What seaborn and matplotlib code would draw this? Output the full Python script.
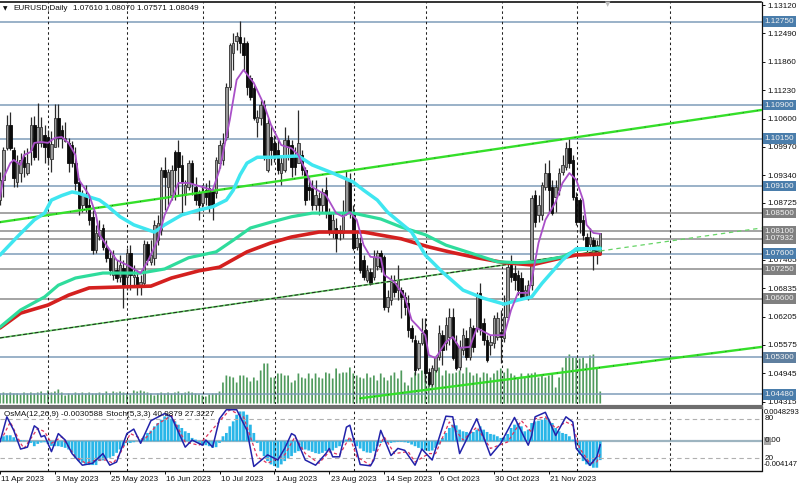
import matplotlib
matplotlib.use('Agg')
import matplotlib.pyplot as plt
import numpy as np
import seaborn as sns

# candles
opens = [1.0879,1.0924,1.0994,1.1046,1.0990,1.0919,1.0939,1.0974,1.0939,1.0990,
         1.1046,1.1006,1.1006,1.1024,1.1019,1.0970,1.0997,1.1061,1.1035,1.1010,
         1.1006,1.1001,1.0961,1.0919,1.0868,1.0886,1.0868,1.0842,1.0768,1.0800,
         1.0817,1.0773,1.0751,1.0713,1.0724,1.0708,1.0728,1.0708,1.0762,1.0708,
         1.0708,1.0690,1.0694,1.0781,1.0742,1.0751,1.0790,1.0813,1.0946,1.0908,
         1.0890,1.0986,1.0986,1.0957,1.0890,1.0908,1.0961,1.0908,1.0894,1.0873,
         1.0901,1.0906,1.0901,1.0894,1.0961,1.0968,1.1019,1.1130,1.1206,1.1232,
         1.1241,1.1228,1.1228,1.1150,1.1128,1.1052,1.1061,1.1090,1.0946,1.1019,
         1.1006,1.0990,1.0939,1.0946,1.1012,1.1001,1.0974,1.0961,1.0979,1.0946,
         1.0908,1.0906,1.0868,1.0884,1.0868,1.0901,1.0850,1.0806,1.0817,1.0806,
         1.0806,1.0850,1.0924,1.0850,1.0775,1.0784,1.0746,1.0701,1.0719,1.0708,
         1.0733,1.0762,1.0753,1.0642,1.0657,1.0694,1.0679,1.0679,1.0664,1.0650,
         1.0595,1.0568,1.0506,1.0562,1.0590,1.0497,1.0470,1.0502,1.0530,1.0579,
         1.0562,1.0575,1.0620,1.0562,1.0508,1.0546,1.0573,1.0530,1.0595,1.0595,
         1.0673,1.0606,1.0568,1.0557,1.0562,1.0575,1.0586,1.0573,1.0620,1.0735,
         1.0717,1.0713,1.0706,1.0664,1.0661,1.0690,1.0890,1.0846,1.0846,1.0908,
         1.0939,1.0908,1.0886,1.0901,1.0941,1.0952,1.0994,1.0968,1.0886,1.0879,
         1.0835,1.0797,1.0781,1.0790,1.0760,1.0761]
highs = [1.0942,1.0996,1.1068,1.1074,1.0996,1.0979,1.0984,1.0990,1.0994,1.1063,
         1.1065,1.1094,1.1063,1.1046,1.1035,1.1032,1.1092,1.1092,1.1046,1.1052,
         1.1017,1.1010,1.0997,1.0928,1.0901,1.0912,1.0890,1.0857,1.0824,1.0835,
         1.0826,1.0790,1.0768,1.0768,1.0746,1.0757,1.0746,1.0773,1.0779,1.0735,
         1.0724,1.0713,1.0790,1.0788,1.0790,1.0835,1.0846,1.0952,1.0974,1.0948,
         1.0957,1.0990,1.1012,1.0979,1.0924,1.0968,1.0968,1.0930,1.0901,1.0912,
         1.0917,1.0924,1.0908,1.0974,1.1012,1.1028,1.1139,1.1228,1.1250,1.1252,
         1.1277,1.1241,1.1232,1.1157,1.1134,1.1079,1.1101,1.1101,1.1061,1.1046,
         1.1024,1.1017,1.0974,1.1041,1.1024,1.1012,1.0997,1.1078,1.0990,1.0952,
         1.0930,1.0924,1.0924,1.0897,1.0906,1.0930,1.0861,1.0852,1.0839,1.0824,
         1.0879,1.0946,1.0939,1.0868,1.0806,1.0797,1.0757,1.0735,1.0728,1.0768,
         1.0768,1.0768,1.0757,1.0679,1.0713,1.0713,1.0735,1.0686,1.0675,1.0668,
         1.0601,1.0579,1.0568,1.0618,1.0618,1.0506,1.0513,1.0535,1.0601,1.0590,
         1.0620,1.0639,1.0639,1.0579,1.0568,1.0595,1.0590,1.0618,1.0601,1.0675,
         1.0695,1.0618,1.0579,1.0579,1.0624,1.0631,1.0635,1.0668,1.0740,1.0757,
         1.0735,1.0724,1.0719,1.0690,1.0701,1.0890,1.0901,1.0890,1.0919,1.0961,
         1.0968,1.0924,1.0924,1.0950,1.0979,1.1008,1.1015,1.0979,1.0897,1.0884,
         1.0846,1.0806,1.0817,1.0797,1.0790,1.0807]
lows = [1.0868,1.0886,1.0990,1.0990,1.0908,1.0908,1.0919,1.0930,1.0935,1.0957,
        1.0968,1.0968,1.0997,1.0961,1.0957,1.0941,1.0997,1.0997,1.0994,1.1008,
        1.0941,1.0952,1.0901,1.0846,1.0852,1.0852,1.0824,1.0760,1.0762,1.0790,
        1.0768,1.0742,1.0713,1.0701,1.0697,1.0697,1.0639,1.0679,1.0679,1.0690,
        1.0668,1.0668,1.0690,1.0735,1.0735,1.0735,1.0779,1.0802,1.0857,1.0868,
        1.0879,1.0879,1.0890,1.0846,1.0868,1.0901,1.0890,1.0868,1.0835,1.0864,
        1.0868,1.0852,1.0835,1.0883,1.0950,1.0957,1.1012,1.1123,1.1168,1.1212,
        1.1206,1.1168,1.1112,1.1101,1.1057,1.1019,1.1046,1.0968,1.0941,1.0957,
        1.0963,1.0937,1.0912,1.0941,1.0968,1.0930,1.0935,1.0961,1.0935,1.0868,
        1.0879,1.0857,1.0857,1.0846,1.0852,1.0839,1.0802,1.0795,1.0764,1.0790,
        1.0795,1.0846,1.0839,1.0768,1.0768,1.0717,1.0701,1.0697,1.0690,1.0701,
        1.0724,1.0719,1.0635,1.0631,1.0646,1.0664,1.0657,1.0618,1.0624,1.0575,
        1.0564,1.0491,1.0502,1.0557,1.0475,1.0466,1.0466,1.0497,1.0524,1.0513,
        1.0546,1.0557,1.0524,1.0502,1.0502,1.0535,1.0524,1.0524,1.0542,1.0586,
        1.0579,1.0557,1.0520,1.0535,1.0551,1.0568,1.0517,1.0564,1.0613,1.0697,
        1.0679,1.0668,1.0657,1.0661,1.0657,1.0679,1.0819,1.0830,1.0835,1.0901,
        1.0850,1.0846,1.0852,1.0890,1.0935,1.0946,1.0950,1.0879,1.0824,1.0806,
        1.0790,1.0757,1.0768,1.0724,1.0738,1.0757]
closes = [1.0924,1.0990,1.1046,1.0994,1.0928,1.0961,1.0968,1.0952,1.0961,1.1046,
          1.0974,1.1041,1.1041,1.0997,1.0974,1.1004,1.1061,1.1017,1.1017,1.1017,
          1.0961,1.0961,1.0917,1.0862,1.0890,1.0864,1.0835,1.0768,1.0806,1.0813,
          1.0775,1.0751,1.0724,1.0757,1.0706,1.0735,1.0686,1.0762,1.0713,1.0713,
          1.0686,1.0697,1.0781,1.0746,1.0757,1.0824,1.0828,1.0946,1.0930,1.0941,
          1.0946,1.0946,1.0952,1.0919,1.0912,1.0961,1.0917,1.0879,1.0868,1.0897,
          1.0886,1.0868,1.0868,1.0968,1.1001,1.1006,1.1130,1.1223,1.1228,1.1243,
          1.1228,1.1201,1.1130,1.1108,1.1061,1.1063,1.1090,1.0974,1.1050,1.0990,
          1.0974,1.0946,1.0961,1.1012,1.0997,1.0952,1.0952,1.1006,1.0946,1.0879,
          1.0901,1.0868,1.0890,1.0868,1.0897,1.0850,1.0808,1.0835,1.0795,1.0813,
          1.0850,1.0924,1.0850,1.0773,1.0795,1.0724,1.0708,1.0724,1.0694,1.0753,
          1.0762,1.0730,1.0642,1.0664,1.0697,1.0675,1.0701,1.0664,1.0642,1.0590,
          1.0573,1.0502,1.0562,1.0584,1.0495,1.0470,1.0506,1.0530,1.0584,1.0546,
          1.0601,1.0620,1.0528,1.0506,1.0553,1.0579,1.0530,1.0597,1.0553,1.0668,
          1.0595,1.0568,1.0524,1.0564,1.0618,1.0618,1.0575,1.0620,1.0730,1.0708,
          1.0701,1.0679,1.0664,1.0679,1.0690,1.0884,1.0830,1.0868,1.0912,1.0939,
          1.0901,1.0850,1.0908,1.0939,1.0957,1.0994,1.0961,1.0886,1.0830,1.0830,
          1.0802,1.0775,1.0797,1.0760,1.0779,1.0805]

# volumes, same bars
volumes = [10,11,10,11,10,10,9,11,10,11,10,11,12,10,13,11,12,14,11,8,
           10,9,11,10,11,10,11,10,10,11,10,12,10,12,11,12,11,10,9,13,
           12,13,12,11,10,8,10,11,10,11,10,11,12,10,11,12,11,10,9,8,
           7,9,10,10,12,21,28,27,26,21,28,28,26,22,26,23,33,40,40,
           26,26,30,30,28,28,21,23,30,26,25,30,25,30,26,25,31,30,25,35,
           30,31,31,36,30,28,26,25,30,26,28,23,30,26,23,28,31,25,33,21,
           18,26,31,30,33,35,26,33,33,36,28,33,30,30,31,33,30,36,31,28,
           30,26,31,30,26,30,33,35,31,35,30,28,26,30,26,30,30,31,26,28,
           26,28,30,16,26,36,46,49,46,46,45,46,40,48,49,35,12]

# moving averages (bar, price)
ma_fast_x = [0,1,3,4,6,7,9,10,12,14,16,18,20,22,23,26,28,29,32,34,37,41,43,46,48,50,52,55,59,62,
             64,67,69,71,74,77,79,82,85,87,89,91,95,98,100,102,104,106,108,111,112,115,118,120,
             122,124,125,127,130,132,134,137,139,143,147,149,151,154,155,157,159,162,164,166,168,
             170,171,173,175]
ma_fast_y = [1.0886,1.0928,1.0961,1.0968,1.0957,1.0979,1.0986,1.1006,1.1008,1.1006,1.1017,1.1019,
             1.1006,1.0979,1.0924,1.0890,1.0846,1.0802,1.0768,1.0746,1.0735,1.0717,1.0742,1.0790,
             1.0846,1.0879,1.0917,1.0917,1.0908,1.0901,1.0946,1.1057,1.1146,1.1168,1.1139,1.1090,
             1.1046,1.1001,1.0994,1.0979,1.0946,1.0908,1.0890,1.0850,1.0842,1.0852,1.0835,1.0779,
             1.0753,1.0751,1.0713,1.0697,1.0664,1.0613,1.0597,1.0579,1.0535,1.0528,1.0564,1.0575,
             1.0551,1.0553,1.0595,1.0579,1.0579,1.0635,1.0673,1.0673,1.0701,1.0784,1.0835,1.0875,
             1.0917,1.0939,1.0924,1.0879,1.0824,1.0806,1.0804]
ma_mid_x = [0,5,10,13,15,18,21,23,26,29,31,35,39,45,48,53,58,62,66,68,70,72,75,79,87,91,97,103,106,
            110,113,120,124,129,135,141,147,151,155,158,164,168,175]
ma_mid_y = [1.0757,1.0797,1.0835,1.0850,1.0879,1.0889,1.0897,1.0894,1.0886,1.0879,1.0868,1.0842,
            1.0824,1.0808,1.0824,1.0846,1.0857,1.0864,1.0879,1.0901,1.0935,1.0961,1.0974,1.0974,
            1.0977,1.0957,1.0939,1.0919,1.0901,1.0879,1.0852,1.0808,1.0757,1.0719,1.0679,1.0661,
            1.0648,1.0657,1.0664,1.0694,1.0746,1.0771,1.0771]
ma_slow_x = [0,6,13,17,22,30,41,48,55,63,68,73,79,85,91,103,111,117,124,130,137,145,151,157,164,168,175]
ma_slow_y = [1.0597,1.0635,1.0664,1.0690,1.0706,1.0717,1.0717,1.0726,1.0751,1.0764,1.0790,1.0817,
             1.0830,1.0842,1.0850,1.0850,1.0837,1.0819,1.0802,1.0779,1.0762,1.0742,1.0740,1.0742,
             1.0753,1.0768,1.0773]
ma_200_x = [0,6,14,20,26,35,44,50,58,64,72,79,85,93,106,117,125,131,139,147,155,164,168,175]
ma_200_y = [1.0595,1.0628,1.0646,1.0668,1.0684,1.0686,1.0688,1.0706,1.0722,1.0730,1.0764,1.0784,
            1.0797,1.0808,1.0808,1.0793,1.0775,1.0764,1.0751,1.0740,1.0735,1.0751,1.0757,1.0759]

# trend lines
trend_up_x, trend_up_y = [0, 222], [1.0830, 1.1079]
trend_low_x, trend_low_y = [105, 222], [1.0439, 1.0553]
trend_thin_x, trend_thin_y = [0, 175], [1.0573, 1.0766]
trend_ext_x, trend_ext_y = [175, 222], [1.0766, 1.0817]

# levels on the right
level_vals = [1.1275,1.1090,1.1015,1.0910,1.0850,1.0810,1.07932,1.0760,1.0725,1.0660,1.0530,1.0448]
level_text = ['1.12750','1.10900','1.10150','1.09100','1.08500','1.08100','1.07932','1.07600',
              '1.07250','1.06600','1.05300','1.04480']
level_cols = ['#4a7dab','#4a7dab','#4a7dab','#4a7dab','#808080','#808080','#808080','#4a7dab',
              '#808080','#808080','#5f7f9f','#4a7dab']
price_ticks = [1.13120,1.12490,1.11860,1.11230,1.10600,1.09970,1.09340,1.08725,1.07465,1.06835,
               1.06205,1.05575,1.04945,1.04315]

# vertical grid and dates
grid_bars = [14, 37, 59.2, 80.2, 103.2, 124.2, 146.3, 168.2, 195.3]
date_bars = [0,16,32,48,64,80,96,112,128,144,160]
date_text = ['11 Apr 2023','3 May 2023','25 May 2023','16 Jun 2023','10 Jul 2023','1 Aug 2023',
             '23 Aug 2023','14 Sep 2023','6 Oct 2023','30 Oct 2023','21 Nov 2023']

# OsMA, in units of 5.38e-5
osma_vals = [10,15,18,18,12,6,3,2,0,-5,-15,-8,-4,-3,-8,-14,-15,-15,-17,-20,
             -25,-35,-50,-60,-65,-70,-72,-72,-72,-60,-58,-52,-50,-45,-35,-25,-15,-5,-5,-3,
             0,5,15,25,32,45,55,65,75,75,68,60,50,40,30,25,10,5,-5,-10,
             -12,-15,-20,-18,-5,15,25,45,60,80,90,90,80,50,25,-5,-30,-45,-60,-70,
             -75,-80,-70,-60,-52,-45,-35,-30,-25,-25,-28,-32,-36,-38,-35,-30,-28,-28,-20,-15,
             -5,5,8,-3,-15,-22,-30,-34,-35,-30,-15,-5,-2,-5,-5,-3,-2,-2,-3,-5,
             -10,-15,-20,-25,-28,-30,-28,-20,-10,10,25,40,50,48,35,30,28,25,28,35,
             45,35,28,22,20,15,10,12,22,40,50,55,45,30,35,55,60,62,65,70,
             68,55,40,30,25,22,15,5,-10,-40,-60,-70,-75,-80,-80,-57]
osma_unit = 5.38e-5

# stochastic
stoch_x = [0,2,4,6,8,10,11,12,13,15,17,19,21,24,27,30,32,34,37,39,41,44,48,50,54,56,59,60,62,64,66,
           69,72,74,78,81,83,85,86,89,92,95,96,97,99,101,102,105,108,109,111,114,116,118,121,123,
           126,130,132,134,139,143,146,150,154,155,156,159,162,165,167,168,172,174,175]
stoch_y = [45,84,63,34,37,70,66,53,55,30,58,48,27,9,12,27,9,14,58,65,43,78,89,84,37,48,40,48,37,81,
           95,95,63,7,25,17,35,58,55,17,9,27,35,22,22,68,71,10,8,17,63,24,35,32,9,34,17,85,84,27,
           81,24,43,83,40,55,84,91,55,84,76,35,9,22,41]
signal_x = [1,3,6,7,11,13,15,18,22,25,28,31,33,35,38,42,46,50,54,58,63,67,71,75,78,83,86,89,93,96,
            99,102,104,108,112,115,119,121,125,127,131,135,139,143,148,152,155,156,159,162,165,
            167,169,172,174,175]
signal_y = [55,76,43,35,66,61,43,53,22,12,17,17,12,27,58,48,73,86,45,40,71,95,84,22,12,25,53,27,12,
            30,25,53,22,9,53,27,30,14,27,27,76,48,68,35,45,78,60,81,84,66,76,71,35,12,14,27]

W, H = 800, 488
sns.set_style('white')
plt.rcParams['font.family'] = ['Liberation Sans', 'DejaVu Sans']
fig = plt.figure(figsize=(W / 100, H / 100), dpi=100)
ax = fig.add_axes([0, 1 - 403.5 / H, 761.5 / W, 402 / H])
sub = fig.add_axes([0, 1 - 471 / H, 761.5 / W, 64.5 / H])
xmax = 761.5 / 3.43
ink = '#111111'
fs = 5.9

# volume underneath everything
vol_ax = ax.twinx()
vol_ax.set_zorder(0)
ax.set_zorder(1)
ax.patch.set_alpha(0)
vol_ax.bar(np.arange(len(volumes)), volumes, width=0.5, color='#4f9a5c', linewidth=0, snap=False)
vol_ax.set_ylim(0, 402)
vol_ax.set_yticks([])

# levels
for v, c in zip(level_vals, level_cols):
    ax.axhline(v, color='#7f9db9' if c != '#808080' else '#8c8c8c', lw=1.1, zorder=1)
for g in grid_bars:
    ax.axvline(g, color='#222222', lw=0.75, ls=(0, (2.4, 2.6)), zorder=1)
    sub.axvline(g, color='#222222', lw=0.75, ls=(0, (2.4, 2.6)), zorder=1)

# candles
bars = np.arange(len(opens))
op, hi, lo, cl = map(np.array, (opens, highs, lows, closes))
ax.vlines(bars, lo, hi, color='#2a2a2a', lw=0.9, zorder=3)
up = cl >= op
ax.bar(bars[up], (cl - op)[up], bottom=op[up], width=0.72, color='#9a9a9a', edgecolor='#333333',
       linewidth=0.6, zorder=4)
ax.bar(bars[~up], (op - cl)[~up], bottom=cl[~up], width=0.72, color='#0a0a0a', edgecolor='#0a0a0a',
       linewidth=0.6, zorder=4)

# trend lines
sns.lineplot(x=trend_up_x, y=trend_up_y, color='#35e02a', lw=1.7, ax=ax, zorder=5)
sns.lineplot(x=trend_low_x, y=trend_low_y, color='#35e02a', lw=1.7, ax=ax, zorder=5)
ax.plot(trend_up_x, trend_up_y, color='#1a3a1a', lw=0.6, ls=(0, (1, 16)), zorder=5)
ax.plot(trend_low_x, trend_low_y, color='#1a3a1a', lw=0.6, ls=(0, (1, 16)), zorder=5)
sns.lineplot(x=trend_thin_x, y=trend_thin_y, color='#5fcf5f', lw=1.2, ax=ax, zorder=5)
ax.plot(trend_thin_x, trend_thin_y, color='#222222', lw=0.7, ls=(0, (4, 2)), zorder=5)
ax.plot(trend_ext_x, trend_ext_y, color='#66d466', lw=0.9, ls=(0, (3.5, 3)), zorder=5)

# moving averages
round_join = dict(solid_joinstyle='round', solid_capstyle='round')
sns.lineplot(x=ma_200_x, y=ma_200_y, color='#d4201f', lw=2.6, ax=ax, zorder=6, estimator=None, **round_join)
sns.lineplot(x=ma_slow_x, y=ma_slow_y, color='#2fdc9c', lw=2.3, ax=ax, zorder=6, estimator=None, **round_join)
sns.lineplot(x=ma_mid_x, y=ma_mid_y, color='#3fe6f0', lw=2.5, ax=ax, zorder=7, estimator=None, **round_join)
sns.lineplot(x=ma_fast_x, y=ma_fast_y, color='#a950c8', lw=1.3, ax=ax, zorder=8, estimator=None, **round_join)

ax.set_xlim(0, xmax)
vol_ax.set_xlim(0, xmax)
ax.set_ylim(1.1312 - 398.5 / 4505, 1.1312 + 3.5 / 4505)
ax.set_xticks([])
ax.yaxis.tick_right()
ax.set_yticks(price_ticks)
ax.set_yticklabels(['%.5f' % p for p in price_ticks], fontsize=fs, color=ink)
ax.tick_params(axis='y', length=2, width=0.7, pad=2.5, color=ink, right=True, left=False)

# level labels on the right
trans = ax.get_yaxis_transform()
for v, t, c in zip(level_vals, level_text, level_cols):
    ax.text(1.0 + 3 / 761.5, v, t, transform=trans, fontsize=fs, color='#f2f2f2', va='center',
            ha='left', zorder=10, clip_on=False,
            bbox=dict(boxstyle='square,pad=0.22', fc=c, ec='none'))

# OsMA and stochastic panel
sub_osma = sub.twinx()
sub.set_zorder(1)
sub.patch.set_alpha(0)
osma = np.array(osma_vals) * osma_unit
sub_osma.bar(bars, osma, width=0.8, color='#29b6e8', linewidth=0, snap=False)
sub_osma.set_ylim(-30 / 6200, 35 / 6200)
sub_osma.set_yticks([])
sub_osma.axhline(0, color='#9db4c0', lw=1.6, zorder=0)
sub.axhline(80, color='#b0b0b0', lw=0.8, ls=(0, (4, 3)), zorder=1)
sub.axhline(20, color='#b0b0b0', lw=0.8, ls=(0, (4, 3)), zorder=1)
sns.lineplot(x=signal_x, y=signal_y, color='#e0345c', lw=0.9, ls=(0, (2.5, 2)), ax=sub, zorder=5,
             estimator=None)
sns.lineplot(x=stoch_x, y=stoch_y, color='#2222aa', lw=1.1, ax=sub, zorder=6, estimator=None)
sub.set_ylim(0, 100)
sub.set_xlim(0, xmax)
sub_osma.set_xlim(0, xmax)
sub.set_yticks([])
sub.set_xticks(date_bars)
sub.set_xticklabels([])
sub.tick_params(axis='x', length=2.5, width=0.7, bottom=True, color=ink)
for b, t in zip(date_bars, date_text):
    sub.annotate(t, (b, 0), xytext=(1, -6), textcoords='offset points', fontsize=fs, color=ink,
                 ha='left', va='center', annotation_clip=False)

for a in (ax, sub, vol_ax, sub_osma):
    for side in ('left', 'top', 'right', 'bottom'):
        a.spines[side].set_visible(False)
for a in (ax, sub):
    a.spines['right'].set_visible(True)
    a.spines['right'].set_color(ink)
    a.spines['right'].set_linewidth(0.9)
ax.spines['top'].set_visible(True)
ax.spines['top'].set_color(ink)
ax.spines['top'].set_linewidth(1.2)
sub.spines['bottom'].set_visible(True)
sub.spines['bottom'].set_color(ink)
sub.spines['bottom'].set_linewidth(1.0)
sub.spines['top'].set_visible(True)
sub.spines['top'].set_color('#6e6e6e')
sub.spines['top'].set_linewidth(3.0)

# header and panel captions
fig.text(13 / W, 1 - 8.5 / H, 'EURUSD,Daily', fontsize=fs, color=ink, va='center', ha='left')
fig.text(73 / W, 1 - 8.5 / H, '1.07610 1.08070 1.07571 1.08049', fontsize=fs, color=ink, va='center',
         ha='left')
fig.text(4 / W, 1 - 414 / H, 'OsMA(12,26,9) -0.0030588', fontsize=fs, color=ink, va='center', ha='left')
fig.text(106 / W, 1 - 414 / H, 'Stoch(5,3,3) 40.9879 27.3227', fontsize=fs, color=ink, va='center',
         ha='left')
fig.text(5.5 / W, 1 - 8.5 / H, '\u25bc', fontsize=4.2, color=ink, va='center', ha='center',
         family='DejaVu Sans')
fig.text(608 / W, 1 - 4 / H, '\u25bc', fontsize=5, color='#bdbdbd', va='center', ha='center',
         family='DejaVu Sans')
fig.text(764 / W, 1 - 412 / H, '0.0048293', fontsize=5.5, color=ink, va='center', ha='left')
fig.text(765 / W, 1 - 419 / H, '80', fontsize=fs, color=ink, va='center', ha='left')
fig.text(765 / W, 1 - 441 / H, '0', fontsize=fs, color=ink, va='center', ha='left',
         bbox=dict(boxstyle='square,pad=0.12', fc='#a8a8a8', ec='none'))
fig.text(769.6 / W, 1 - 441 / H, '.00', fontsize=fs, color=ink, va='center', ha='left')
fig.text(765 / W, 1 - 458 / H, '20', fontsize=fs, color=ink, va='center', ha='left')
fig.text(764 / W, 1 - 465 / H, '-0.004147', fontsize=5.5, color=ink, va='center', ha='left')

fig.savefig('out.png', dpi=100)
plt.close(fig)
